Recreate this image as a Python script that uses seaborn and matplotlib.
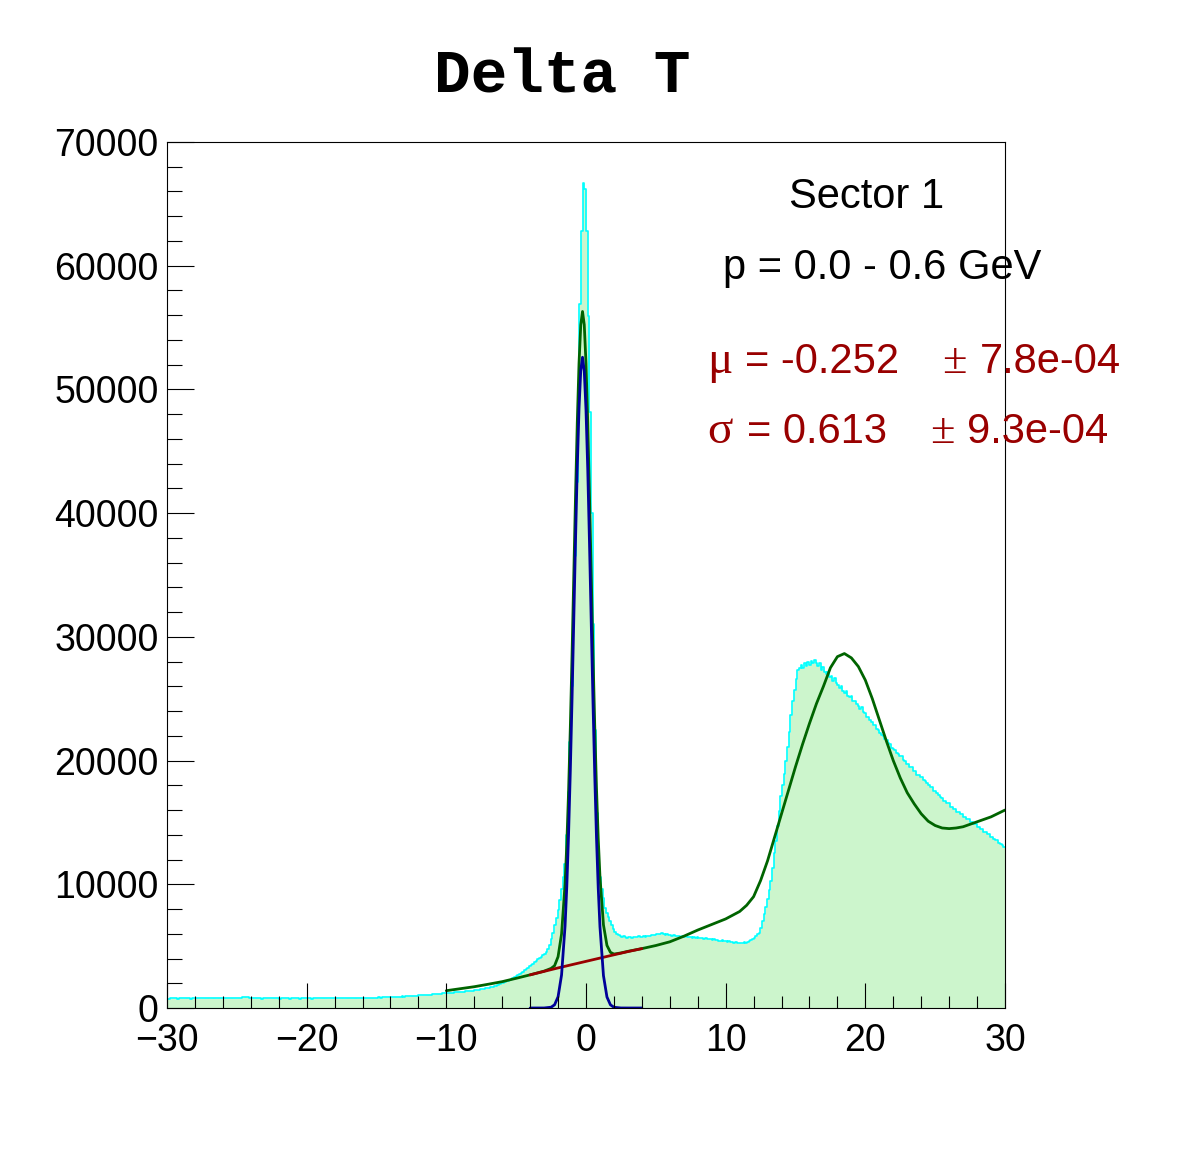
import numpy as np
import pandas as pd
import matplotlib
matplotlib.use("Agg")
import matplotlib.pyplot as plt
import seaborn as sns
from matplotlib.ticker import MultipleLocator, FormatStrFormatter

# histogram: 500 bins of 0.12 from -30 to 30, counts
x_lo, x_hi, n_bins = -30.0, 30.0, 500
counts = [
    # -30 .. -27
    740, 760, 790, 770, 800, 780, 760, 810, 790, 770, 800, 820, 790, 780, 760, 790, 810, 830, 800, 780, 770, 790, 810, 800, 820,
    # -27 .. -24
    790, 800, 830, 810, 790, 820, 810, 800, 790, 810, 800, 790, 810, 820, 800, 790, 780, 800, 810, 830, 880, 920, 890, 850, 810,
    # -24 .. -21
    780, 770, 790, 800, 780, 770, 760, 780, 790, 800, 790, 770, 780, 800, 790, 780, 770, 760, 780, 790, 800, 780, 770, 760, 780,
    # -21 .. -18
    770, 780, 790, 780, 760, 770, 780, 790, 800, 780, 770, 760, 780, 790, 780, 770, 790, 800, 810, 790, 780, 770, 790, 800, 790,
    # -18 .. -15
    800, 790, 780, 800, 810, 790, 800, 820, 810, 800, 790, 810, 820, 800, 790, 810, 830, 820, 810, 800, 820, 830, 840, 820, 830,
    # -15 .. -12
    840, 850, 830, 850, 860, 870, 850, 860, 880, 870, 890, 900, 880, 890, 910, 930, 920, 940, 960, 950, 970, 990, 980, 1000, 1010,
    # -12 .. -9
    1020, 1030, 1050, 1040, 1060, 1080, 1070, 1090, 1110, 1100, 1130, 1150, 1140, 1170, 1190, 1180, 1200, 1220, 1240, 1230, 1250, 1270, 1260, 1290, 1300,
    # -9 .. -6
    1310, 1330, 1320, 1350, 1370, 1360, 1390, 1410, 1430, 1420, 1450, 1480, 1500, 1530, 1550, 1580, 1610, 1640, 1680, 1720, 1760, 1810, 1870, 1930, 2000,
    # -6 .. -3
    2060, 2110, 2170, 2220, 2300, 2360, 2430, 2510, 2590, 2680, 2760, 2850, 2950, 3040, 3150, 3250, 3360, 3470, 3580, 3700, 3820, 3930, 4050, 4160, 4270,
    # -3 .. 0
    4400, 4560, 4800, 5100, 5550, 6100, 6700, 7300, 7900, 8700, 9600, 10600, 11600, 14000, 17500, 21500, 26000, 31000, 36500, 42500, 49000, 56900, 62800, 66700, 66200,
    # 0 .. 3
    62800, 55900, 48200, 40000, 31000, 22500, 15800, 12300, 10600, 9600, 8900, 8100, 7700, 7350, 7050, 6700, 6400, 6150, 6000, 5900, 5820, 5760, 5800, 5720, 5690,
    # 3 .. 6
    5700, 5740, 5690, 5720, 5760, 5700, 5780, 5750, 5720, 5790, 5760, 5810, 5850, 5800, 5880, 5930, 5870, 5960, 6020, 5950, 6060, 5990, 5930, 5970, 5900,
    # 6 .. 9
    5880, 5850, 5900, 5820, 5790, 5840, 5760, 5800, 5720, 5780, 5740, 5700, 5760, 5690, 5720, 5650, 5700, 5640, 5680, 5620, 5590, 5640, 5570, 5600, 5550,
    # 9 .. 12
    5520, 5560, 5480, 5500, 5450, 5420, 5470, 5390, 5420, 5360, 5380, 5320, 5350, 5280, 5310, 5250, 5290, 5230, 5260, 5300, 5240, 5350, 5420, 5480, 5560,
    # 12 .. 15
    5680, 5800, 5950, 6100, 6500, 7000, 7600, 8200, 8800, 9500, 10300, 11300, 12500, 13500, 14700, 15900, 17100, 18000, 18900, 20000, 21100, 22300, 23700, 24800, 25700,
    # 15 .. 18
    26600, 27300, 27500, 27700, 27450, 27850, 27650, 28000, 27750, 28050, 27850, 28150, 27900, 27650, 27850, 27350, 27550, 27150, 27000, 27150, 26750, 26800, 26450, 26650, 26250,
    # 18 .. 21
    26100, 25850, 26050, 25650, 25500, 25650, 25250, 25150, 25250, 24850, 24850, 24550, 24450, 24150, 24350, 23950, 23850, 23550, 23550, 23250, 23150, 22850, 22850, 22550, 22450,
    # 21 .. 24
    22250, 22050, 21950, 21750, 21650, 21450, 21350, 21050, 20950, 20850, 20650, 20550, 20350, 20350, 20050, 19950, 19750, 19750, 19450, 19450, 19150, 19150, 18850, 18850, 18650,
    # 24 .. 27
    18650, 18450, 18350, 18150, 18050, 17850, 17850, 17550, 17550, 17350, 17250, 17050, 16950, 16750, 16750, 16550, 16550, 16250, 16250, 16050, 16050, 15850, 15850, 15650, 15650,
    # 27 .. 30
    15450, 15450, 15250, 15250, 15050, 15050, 14850, 14850, 14650, 14650, 14450, 14450, 14250, 14250, 14050, 14050, 13850, 13850, 13650, 13550, 13550, 13350, 13250, 13150, 13050,
]

# total fit (green)
fit_x = [-10, -9, -8, -7, -6, -5, -4, -3, -2.5, -2.25, -2, -1.75, -1.5, -1.375, -1.25, -1.125, -1.0,
         -0.875, -0.75, -0.625, -0.5, -0.375, -0.25, -0.125, 0, 0.125, 0.25, 0.375, 0.5, 0.625, 0.75,
         0.875, 1.0, 1.25, 1.5, 1.75, 2.0, 2.5, 3, 4, 5, 6, 7, 8, 9, 10, 11, 11.5, 12, 12.5, 13, 13.5,
         14, 14.5, 15, 15.5, 16, 16.5, 17, 17.5, 18, 18.5, 19, 19.5, 20, 20.5, 21, 21.5, 22, 22.5, 23,
         23.5, 24, 24.5, 25, 25.5, 26, 26.5, 27, 28, 29, 30]
fit_y = [1400, 1560, 1720, 1920, 2130, 2400, 2680, 2980, 3200, 3420, 4145, 5980, 9990, 13230, 17420, 22550, 28480,
         34940, 41400, 47300, 52100, 55220, 56300, 55230, 52120, 47340, 41420, 35050, 28680, 22830, 17790,
         13720, 10600, 6720, 5060, 4500, 4360, 4450, 4580, 4800, 5050, 5350, 5800, 6300, 6750, 7200, 7800, 8300, 9000, 10300, 11900, 13800,
         15700, 17600, 19500, 21300, 23000, 24600, 26000, 27500, 28400, 28650, 28300, 27600, 26500, 25000, 23300, 21600, 20000, 18600, 17400,
         16500, 15700, 15100, 14750, 14550, 14500, 14550, 14650, 15050, 15450, 16000]

# background (red)
bg_x = [-4, -3, -2, -1, 0, 1, 2, 3, 4]
bg_y = [2680, 2960, 3240, 3505, 3770, 4035, 4300, 4560, 4800]

# signal gaussian (blue)
gaus_x = [-4.0, -3.0, -2.5, -2.25, -2.0, -1.75, -1.5, -1.375, -1.25, -1.125, -1.0, -0.875, -0.75, -0.625,
          -0.5, -0.375, -0.25, -0.125, 0.0, 0.125, 0.25, 0.375, 0.5, 0.625, 0.75, 0.875, 1.0, 1.25, 1.5,
          1.75, 2.0, 2.5, 3.0, 4.0]
gaus_y = [0, 2, 63, 260, 905, 2670, 6620, 9820, 13980, 19080, 24970, 31400, 37830, 43700,
          48460, 51550, 52600, 51490, 48350, 43540, 37580, 31180, 24780, 18890, 13820, 9720, 6560, 2620, 890,
          255, 60, 2, 0, 0]

title = "Delta T"
info_lines = ["Sector 1", "p = 0.0 - 0.6 GeV"]
mu_txt = ("\u03bc", "= -0.252", "\u00b1", "7.8e-04")
sigma_txt = ("\u03c3", "= 0.613", "\u00b1", "9.3e-04")

edges = [x_lo + (x_hi - x_lo) * i / n_bins for i in range(n_bins + 1)]
centers = [0.5 * (a + b) for a, b in zip(edges[:-1], edges[1:])]
hist = pd.DataFrame({"dt": centers, "n": counts})

sns.set_style("ticks", {"text.color": "black", "xtick.color": "black", "ytick.color": "black",
                        "axes.edgecolor": "black", "xtick.direction": "in", "ytick.direction": "in"})
plt.rcParams["font.family"] = ["Liberation Sans", "DejaVu Sans"]
plt.rcParams["text.color"] = "black"

W, H = 1196, 1172
fig = plt.figure(figsize=(W / 100, H / 100), dpi=100)
ax = fig.add_axes([167 / W, 1 - 1008 / H, 838 / W, 866 / H])
ax.set_axisbelow(False)

sns.histplot(data=hist, x="dt", weights="n", bins=edges, element="step", fill=True,
             color="#ccf5cc", alpha=1, linewidth=0, ax=ax)
sns.histplot(data=hist, x="dt", weights="n", bins=edges, element="step", fill=False,
             color="#00ffff", linewidth=1.2, ax=ax)
sns.lineplot(x=fit_x, y=fit_y, color="#006400", linewidth=2.0, sort=False, estimator=None, ax=ax)
sns.lineplot(x=bg_x, y=bg_y, color="#990000", linewidth=2.0, sort=False, estimator=None, ax=ax)
sns.lineplot(x=gaus_x, y=gaus_y, color="#000099", linewidth=2.0, sort=False, estimator=None, ax=ax)

ax.set_xlim(x_lo, x_hi)
ax.set_ylim(0, 70000)
ax.set_xlabel("")
ax.set_ylabel("")
ax.xaxis.set_major_locator(MultipleLocator(10))
ax.xaxis.set_minor_locator(MultipleLocator(2))
ax.yaxis.set_major_locator(MultipleLocator(10000))
ax.yaxis.set_minor_locator(MultipleLocator(2000))
ax.yaxis.set_major_formatter(FormatStrFormatter("%d"))
ax.tick_params(axis="both", which="both", direction="in", top=False, right=False,
               bottom=True, left=True, width=0.8, labelsize=27,
               color="black", labelcolor="black")
ax.tick_params(axis="y", which="major", length=19.5, pad=6)
ax.tick_params(axis="y", which="minor", length=10.5)
ax.tick_params(axis="x", which="major", length=18, pad=11)
ax.tick_params(axis="x", which="minor", length=8.5)
for s in ax.spines.values():
    s.set_visible(True)
    s.set_color("black")
    s.set_linewidth(0.8)
    s.set_zorder(5)
ax.set_facecolor("white")

fig.text(562 / W, 1 - 77 / H, title, ha="center", va="center", fontsize=44, color="black",
         family=["Liberation Mono", "DejaVu Sans Mono"], weight="bold")
fig.text(867 / W, 1 - 197 / H, info_lines[0], ha="center", va="center", fontsize=30, color="black")
fig.text(882 / W, 1 - 268 / H, info_lines[1], ha="center", va="center", fontsize=30, color="black")

red = "#990000"
serif = ["Liberation Serif", "DejaVu Serif"]
for txt, yc, xs in [(mu_txt, 362, (707, 745, 942, 980)),
                    (sigma_txt, 432, (707, 747, 930, 967))]:
    fig.text(xs[0] / W, 1 - yc / H, txt[0], ha="left", va="center", fontsize=34, color=red, family=serif)
    fig.text(xs[1] / W, 1 - yc / H, txt[1], ha="left", va="center", fontsize=30, color=red)
    fig.text(xs[2] / W, 1 - yc / H, txt[2], ha="left", va="center", fontsize=32, color=red, family=serif)
    fig.text(xs[3] / W, 1 - yc / H, txt[3], ha="left", va="center", fontsize=30, color=red)

fig.savefig("out.png", dpi=100, facecolor="white")
